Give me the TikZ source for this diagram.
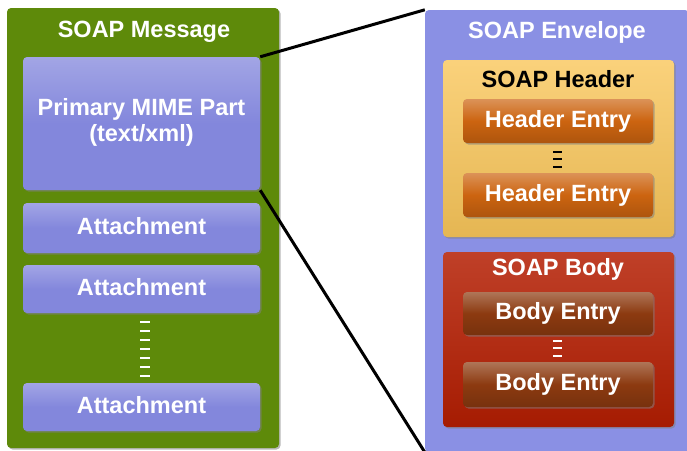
\documentclass[tikz,border=0pt]{standalone}
\usepackage{fontspec}
\setmainfont{Liberation Sans}
\usetikzlibrary{shadows}
\definecolor{msggreen}{HTML}{5E8A0A}
\definecolor{partblue}{HTML}{8387DC}
\definecolor{envblue}{HTML}{8A90E4}
\definecolor{hdryellow}{HTML}{F9C65A}
\definecolor{hdrorange}{HTML}{CC6410}
\definecolor{bodyred}{HTML}{B41E02}
\definecolor{bodybrown}{HTML}{8C3A10}
\tikzset{
  x=1pt, y=-1pt,
  box/.style={rectangle, rounded corners=4pt, inner sep=0pt, draw=none,
    drop shadow={shadow xshift=1.5pt, shadow yshift=-1.5pt, opacity=0.55}},
  lbl/.style={font=\fontsize{23.5}{25}\selectfont\bfseries, text=white, align=center},
  part/.style={box, lbl, top color=partblue!75!white, bottom color=partblue, middle color=partblue},
  hentry/.style={box, lbl, top color=hdrorange!70!white, bottom color=hdrorange!85!black, middle color=hdrorange},
  bentry/.style={box, lbl, top color=bodybrown!70!white, bottom color=bodybrown!85!black, middle color=bodybrown},
  link/.style={line width=3pt, black},
  wdash/.style={line width=2pt, white},
  bdash/.style={line width=2pt, black},
}
\begin{document}
\begin{tikzpicture}
\useasboundingbox (0,0) rectangle (687,450);
\fill[white] (0,0) rectangle (687,450);

% left: SOAP Message
\node[box, fill=msggreen, minimum width=272pt, minimum height=440pt] (msg) at (143,228) {};
\node[lbl] (msgt) at (144,32) {SOAP Message};
\node[part, minimum width=237pt, minimum height=133pt] (mime) at (141.5,123.5) {\raisebox{5pt}{\begin{tabular}{@{}c@{}}Primary MIME Part\\[1.5pt](text/xml)\end{tabular}}};
\node[part, minimum width=237pt, minimum height=50pt] (att1) at (141.5,228) {\raisebox{5pt}{Attachment}};
\node[part, minimum width=237pt, minimum height=48pt] (att2) at (141.5,289) {\raisebox{4pt}{Attachment}};
\node[part, minimum width=237pt, minimum height=48pt] (att3) at (141.5,407) {\raisebox{4pt}{Attachment}};
\foreach \yy in {322,331,340,349,358,367,376}
  \draw[wdash] (140,\yy) -- (150,\yy);

% right: SOAP Envelope
\node[box, fill=envblue, minimum width=264pt, minimum height=442pt] (env) at (557,231) {};
\node[lbl] (envt) at (557,32) {SOAP Envelope};

\node[box, top color=hdryellow!80!white, middle color=hdryellow, bottom color=hdryellow!92!black,
  minimum width=231pt, minimum height=177pt] (hdr) at (558.5,148.5) {};
\node[lbl, text=black] (hdrt) at (558,79) {SOAP Header};
\node[hentry, minimum width=190pt, minimum height=44pt] (he1) at (558,121) {\raisebox{2pt}{Header Entry}};
\node[hentry, minimum width=190pt, minimum height=44pt] (he2) at (558,195) {\raisebox{2pt}{Header Entry}};
\foreach \yy in {152,159,167}
  \draw[bdash] (553,\yy) -- (562,\yy);

\node[box, top color=bodyred!85!white, middle color=bodyred, bottom color=bodyred!92!black,
  minimum width=231pt, minimum height=175pt] (body) at (558.5,339.5) {};
\node[lbl] (bodyt) at (558,269) {SOAP Body};
\node[bentry, minimum width=190pt, minimum height=43pt] (be1) at (558,313.5) {\raisebox{2pt}{Body Entry}};
\node[bentry, minimum width=190pt, minimum height=45pt] (be2) at (558,384.5) {\raisebox{2pt}{Body Entry}};
\foreach \yy in {341,348,356}
  \draw[wdash] (553,\yy) -- (562,\yy);

% connectors
\draw[link] (mime.north east) -- (env.north west);
\draw[link] (mime.south east) -- (env.south west);
\end{tikzpicture}
\end{document}
